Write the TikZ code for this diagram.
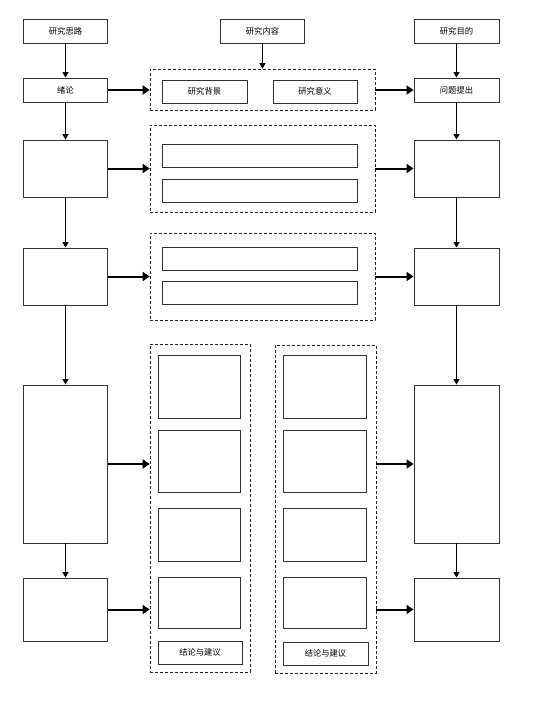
\documentclass[tikz,border=0pt]{standalone}
\usepackage{fontspec}
\newfontfamily\cjk{Noto Sans CJK SC}
\usetikzlibrary{arrows.meta}
\begin{document}
\begin{tikzpicture}[x=1pt,y=-1pt,
  box/.style={draw=black!80,line width=0.9pt,fill=white,inner sep=0pt,font=\cjk\fontsize{8.3}{10}\selectfont},
  dbox/.style={draw=black!85,line width=0.6pt,dash pattern=on 3pt off 2pt,inner sep=0pt},
  varr/.style={line width=1.3pt,-{Triangle[width=6pt,length=5.5pt]}},
  harr/.style={line width=2pt,-{Triangle[width=9pt,length=7pt]}}]
\useasboundingbox (0,0) rectangle (550,713);
% top row
\node[box,minimum width=84pt,minimum height=24pt] (s1) at (65.5,31) {研究思路};
\node[box,minimum width=84pt,minimum height=24pt] (s2) at (262.5,31) {研究内容};
\node[box,minimum width=85pt,minimum height=24pt] (s3) at (456.5,31) {研究目的};
% left column
\node[box,minimum width=84pt,minimum height=24pt] (l1) at (65.5,90) {绪论};
\node[box,minimum width=84pt,minimum height=57pt] (l2) at (65.5,168.5) {};
\node[box,minimum width=84pt,minimum height=57pt] (l3) at (65.5,276.5) {};
\node[box,minimum width=84pt,minimum height=158pt] (l4) at (65.5,464) {};
\node[box,minimum width=84pt,minimum height=63pt] (l5) at (65.5,609.5) {};
% right column
\node[box,minimum width=85pt,minimum height=24pt] (r1) at (456.5,90) {问题提出};
\node[box,minimum width=85pt,minimum height=57pt] (r2) at (456.5,168.5) {};
\node[box,minimum width=85pt,minimum height=57pt] (r3) at (456.5,276.5) {};
\node[box,minimum width=85pt,minimum height=158pt] (r4) at (456.5,464) {};
\node[box,minimum width=85pt,minimum height=63pt] (r5) at (456.5,609.5) {};
% middle dashed groups
\node[dbox,minimum width=225pt,minimum height=41pt] (d1) at (262.5,89.5) {};
\node[box,minimum width=85pt,minimum height=23pt] (bg) at (204.5,91.5) {研究背景};
\node[box,minimum width=84pt,minimum height=23pt] (yy) at (315,91.5) {研究意义};
\node[dbox,minimum width=225pt,minimum height=87pt] (d2) at (262.5,168.5) {};
\node[box,minimum width=195pt,minimum height=23pt] (d2a) at (259.5,155.5) {};
\node[box,minimum width=195pt,minimum height=23pt] (d2b) at (259.5,190.5) {};
\node[dbox,minimum width=225pt,minimum height=87pt] (d3) at (262.5,276.5) {};
\node[box,minimum width=195pt,minimum height=23pt] (d3a) at (259.5,258.5) {};
\node[box,minimum width=195pt,minimum height=23pt] (d3b) at (259.5,292.5) {};
% lower dashed columns
\node[dbox,minimum width=100pt,minimum height=328pt] (da) at (200,508) {};
\node[box,minimum width=82pt,minimum height=63pt] (a1) at (199,386.5) {};
\node[box,minimum width=82pt,minimum height=62pt] (a2) at (199,461) {};
\node[box,minimum width=82pt,minimum height=53pt] (a3) at (199,534.5) {};
\node[box,minimum width=82pt,minimum height=51pt] (a4) at (199,602.5) {};
\node[box,minimum width=84pt,minimum height=23pt] (a5) at (200,652.5) {结论与建议};
\node[dbox,minimum width=101pt,minimum height=328pt] (db) at (325.5,509) {};
\node[box,minimum width=83pt,minimum height=63pt] (b1) at (324.5,386.5) {};
\node[box,minimum width=83pt,minimum height=62pt] (b2) at (324.5,461) {};
\node[box,minimum width=83pt,minimum height=53pt] (b3) at (324.5,534.5) {};
\node[box,minimum width=83pt,minimum height=51pt] (b4) at (324.5,602.5) {};
\node[box,minimum width=85pt,minimum height=23pt] (b5) at (325.5,653.5) {结论与建议};
% vertical arrows
\draw[varr] (s1) -- (l1);
\draw[varr] (l1) -- (l2);
\draw[varr] (l2) -- (l3);
\draw[varr] (l3) -- (l4);
\draw[varr] (l4) -- (l5);
\draw[varr] (s3) -- (r1);
\draw[varr] (r1) -- (r2);
\draw[varr] (r2) -- (r3);
\draw[varr] (r3) -- (r4);
\draw[varr] (r4) -- (r5);
\draw[varr] (s2) -- (s2 |- d1.north);
% horizontal arrows
\draw[harr] (l1.east) -- (l1.east -| d1.west);
\draw[harr] (d1.east |- r1.west) -- (r1.west);
\draw[harr] (l2.east) -- (l2.east -| d2.west);
\draw[harr] (d2.east |- r2.west) -- (r2.west);
\draw[harr] (l3.east) -- (l3.east -| d3.west);
\draw[harr] (d3.east |- r3.west) -- (r3.west);
\draw[harr] (l4.east) -- (l4.east -| da.west);
\draw[harr] (db.east |- r4.west) -- (r4.west);
\draw[harr] (l5.east) -- (l5.east -| da.west);
\draw[harr] (db.east |- r5.west) -- (r5.west);
\end{tikzpicture}
\end{document}
